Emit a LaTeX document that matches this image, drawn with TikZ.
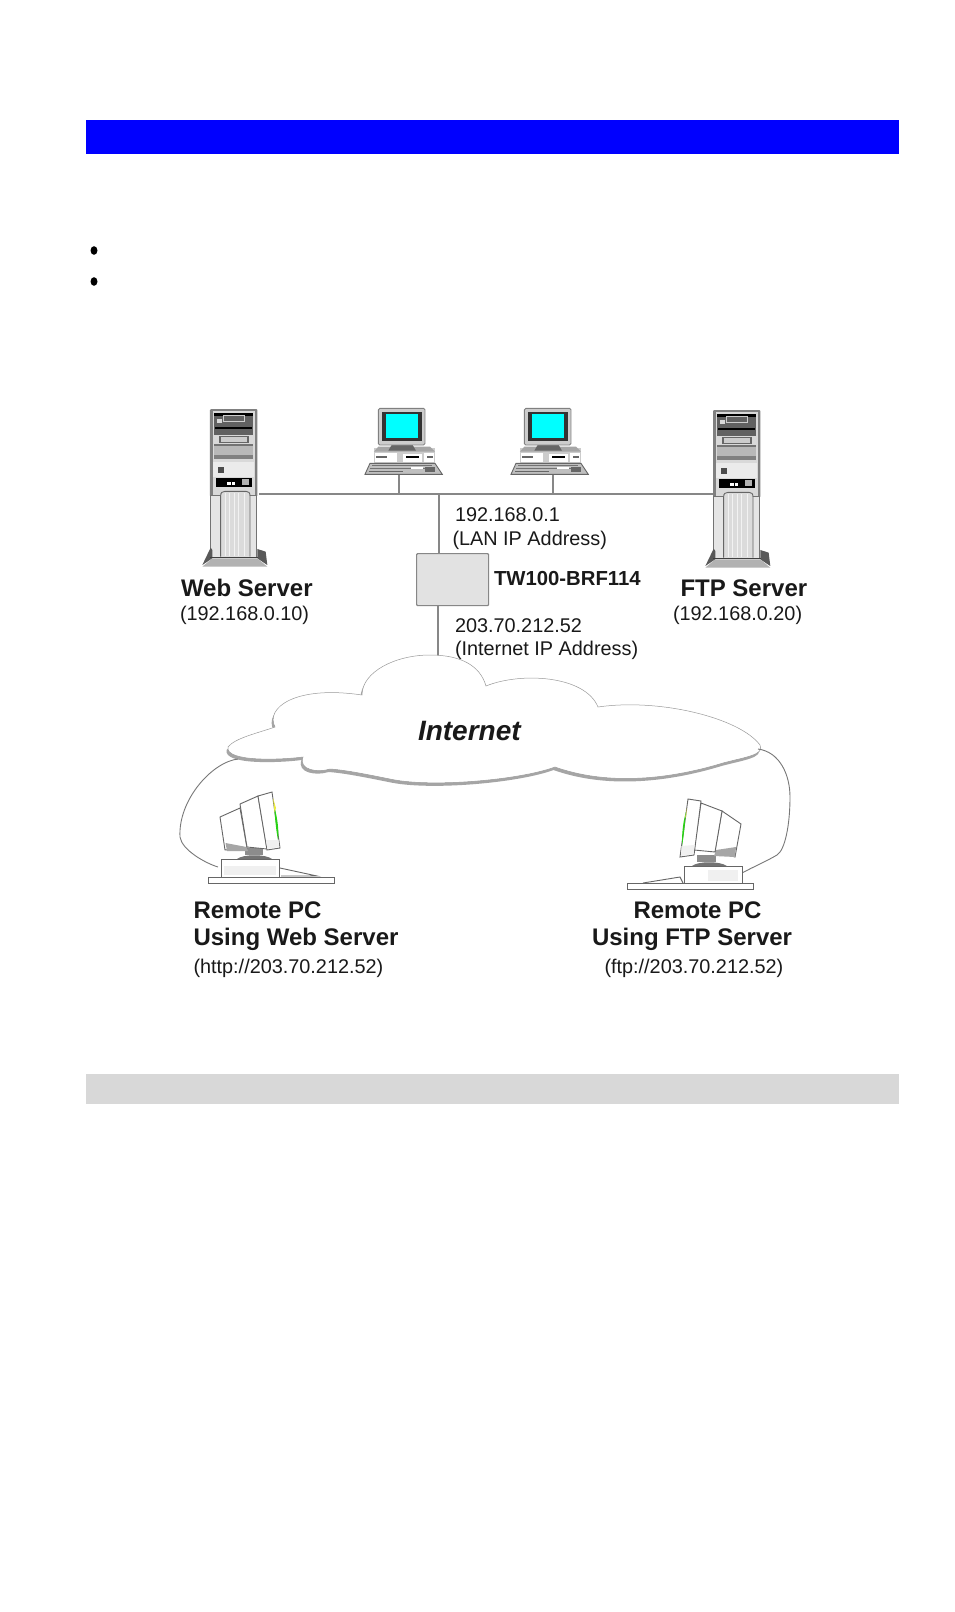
\documentclass[tikz,border=0pt]{standalone}
\usepackage{fontspec}
\setmainfont{Liberation Sans}
\definecolor{cabletone}{RGB}{120,120,120}
\definecolor{wireline}{RGB}{135,135,135}
\definecolor{cloudshade}{RGB}{165,165,165}
\definecolor{panelgrey}{RGB}{216,216,216}
\definecolor{routerfill}{RGB}{226,226,226}
\definecolor{titleblue}{RGB}{0,0,255}
\definecolor{screencyan}{RGB}{0,255,255}
\definecolor{tubegreen}{RGB}{40,210,20}
\definecolor{tubeyellow}{RGB}{235,235,60}
\tikzset{
  x=1pt,y=-1pt,
  lbl/.style={anchor=base west,inner sep=0pt,outer sep=0pt,text=black!90},
  regtext/.style={lbl,font=\fontsize{19.85}{20}\selectfont},
  boldtext/.style={lbl,font=\bfseries\fontsize{24}{24}\selectfont},
  wire/.style={draw=wireline,line width=1.2pt},
  cable/.style={draw=cabletone,line width=0.9pt},
  mon/.style={draw=black!60,line width=0.9pt,fill=white},
}
% server tower, in 3x zoom units around its own origin
\newcommand{\towerunit}{%
  \fill[black!50,rounded corners=1pt] (120,87) rectangle (262,350);
  \fill[black!15] (128,93) rectangle (254,350);
  \fill[black!62] (133,100) rectangle (248,165);
  \fill[black] (133,100) rectangle (248,107);
  \fill[black] (135,140) rectangle (246,148);
  \draw[black!20,line width=0.6pt] (160,107) rectangle (222,125);
  \fill[black!15] (140,117) rectangle (156,130);
  \fill[black!60] (148,168) rectangle (236,190);
  \fill[black!20] (153,172) rectangle (230,186);
  \fill[black!55] (133,192) rectangle (248,197);
  \fill[black!28] (133,197) rectangle (248,225);
  \fill[black!50] (133,225) rectangle (248,238);
  \fill[black!8] (130,245) rectangle (252,292);
  \fill[black!70] (145,260) rectangle (163,278);
  \fill[black] (138,293) rectangle (246,322);
  \fill[white] (172,305) rectangle (182,314);
  \fill[white] (186,305) rectangle (196,314);
  \fill[black!30] (215,297) rectangle (238,315);
  \fill[black!10,draw=black!55,line width=0.8pt] (122,345) rectangle (260,532);
  \draw[black!60,line width=0.9pt,fill=black!14] (152,530) -- (152,348) .. controls (152,338) and (156,334) .. (165,334) -- (228,334) .. controls (236,334) and (240,338) .. (240,348) -- (240,530);
  \foreach \q in {165,178,192,206,222} \draw[black!5,line width=0.7pt] (\q,340) -- (\q,528);
  \fill[black!65] (122,503) -- (97,555) -- (127,535) -- (127,510) -- cycle;
  \fill[black!65] (262,507) -- (287,515) -- (292,555) -- (262,535) -- cycle;
  \fill[black!30] (97,560) -- (127,535) -- (262,535) -- (292,560) -- cycle;
  \draw[black!75,line width=0.9pt] (120,532) -- (264,532);
}
% desktop PC, in 3x zoom units
\newcommand{\deskunit}{%
  \fill[black!20] (612,205) rectangle (795,250);
  \fill[black!35] (625,200) -- (612,215) -- (795,215) -- (780,200) -- cycle;
  \fill[white] (614,218) rectangle (680,246);
  \fill[white] (700,222) rectangle (755,246);
  \fill[white] (762,218) rectangle (793,246);
  \fill[black!60] (618,227) rectangle (650,233);
  \fill[black] (708,227) rectangle (748,235);
  \fill[black!60] (772,229) rectangle (790,233);
  \fill[black!60] (665,195) -- (728,195) -- (738,212) -- (655,212) -- cycle;
  \fill[black!20,draw=black!50,line width=0.9pt,rounded corners=1.5pt] (625,85) rectangle (765,195);
  \fill[black!80] (637,97) rectangle (755,182);
  \fill[screencyan] (648,103) rectangle (743,175);
  \fill[black!25,draw=black!60,line width=0.9pt] (600,250) -- (585,283) -- (817,283) -- (795,250) -- cycle;
  \fill[black!55] (605,254) rectangle (785,258);
  \fill[black!55] (600,264) rectangle (790,268);
  \fill[white] (722,262) rectangle (758,268);
  \fill[black!60] (598,272) rectangle (700,276);
  \fill[black!60] (765,262) rectangle (795,275);
}
\begin{document}
\begin{tikzpicture}
\useasboundingbox (0,0) rectangle (954,1612);
\fill[white] (0,0) rectangle (954,1612);

% page bands and bullets
\fill[titleblue] (86,120) rectangle (899,154);
\fill[panelgrey] (86,1074) rectangle (899,1104);
\fill[black] (94,250.5) ellipse (3.5 and 4.3);
\fill[black] (94,281.5) ellipse (3.5 and 4.3);

% named connection points
\node[wire,fill=routerfill,rounded corners=1pt,minimum width=72pt,minimum height=52pt,inner sep=0pt,anchor=north west] (router) at (416,553) {};
\coordinate (webport) at (259,494);
\coordinate (ftpport) at (714,494);
\coordinate (pcAport) at (399,475);
\coordinate (pcBport) at (553,475);
\coordinate (busA) at (399,494);
\coordinate (busB) at (553,494);
\coordinate (busR) at (439,494);
\coordinate (routerN) at (439,553);
\coordinate (routerS) at (438,605);
\coordinate (cloudtop) at (438,660);

\draw[wire] (webport) -- (ftpport);
\draw[wire] (pcAport) -- (busA);
\draw[wire] (pcBport) -- (busB);
\draw[wire] (busR) -- (routerN);
\draw[wire] (routerS) -- (cloudtop);

% servers
\begin{scope}[shift={(170,380)},x=0.3333pt,y=-0.3333pt]\towerunit\end{scope}
\begin{scope}[shift={(673,381)},x=0.3333pt,y=-0.3333pt]\towerunit\end{scope}
% desktops
\begin{scope}[shift={(170,380)},x=0.3333pt,y=-0.3333pt]\deskunit\end{scope}
\begin{scope}[shift={(316,380)},x=0.3333pt,y=-0.3333pt]\deskunit\end{scope}

% cloud
\def\cloudpath{(228,747) .. controls (235,738) and (258,733) .. (275,727)
  .. controls (265,708) and (295,685) .. (362,695)
  .. controls (362,672) and (395,655) .. (430,655) .. controls (460,655) and (480,665) .. (486,686)
  .. controls (520,672) and (585,675) .. (598,707)
  .. controls (660,698) and (740,718) .. (760,745)
  .. controls (765,755) and (745,757) .. (723,763)
  .. controls (690,773) and (620,790) .. (555,767)
  .. controls (520,780) and (430,788) .. (390,779)
  .. controls (365,774) and (345,770) .. (330,769)
  .. controls (318,773) and (298,770) .. (303,757)
  .. controls (280,760) and (225,762) .. (228,747) -- cycle}
\fill[cloudshade,yshift=-3pt,xshift=-1.5pt] \cloudpath;
\fill[white,draw=black!40,line width=0.5pt] \cloudpath;

% remote cables
\coordinate (cloudL) at (238,759);
\coordinate (cloudR) at (758,749);
\coordinate (remoteAport) at (218,867);
\coordinate (remoteBport) at (742,873);
\draw[cable] (cloudL) .. controls (212,762) and (178,800) .. (180,837) .. controls (182,850) and (205,863) .. (remoteAport);
\draw[cable] (cloudR) .. controls (780,752) and (790,775) .. (790,797) .. controls (790,825) and (785,850) .. (777,855) .. controls (765,862) and (755,866) .. (remoteBport);

% remote PC left
\draw[black!60,line width=0.9pt] (208,877) rectangle (334,883);
\draw[black!60,line width=0.9pt,fill=white] (221,859) rectangle (279,877);
\fill[black!6] (224,866) rectangle (276,875);
\draw[black!60,line width=0.9pt] (280,868) -- (317,876) -- (281,876);
\fill[black!45] (245,848) rectangle (263,855);
\fill[black!55] (237,859) .. controls (243,854) and (266,854) .. (272,859) -- cycle;
\draw[mon] (220,817) -- (240,808) -- (247,848) -- (225,850) -- cycle;
\fill[black!35] (225.5,843) -- (246.5,847) -- (248,851) -- (227,851) -- cycle;
\draw[mon] (240,804) -- (258,796) -- (267,849) -- (247,847) -- cycle;
\draw[mon] (258,796) -- (272,792) -- (280,848) -- (267,850) -- cycle;
\fill[black!6] (266,840) -- (278.5,840) -- (279.3,847) -- (267.5,849) -- cycle;
\fill[tubegreen] (274,805) .. controls (278,820) and (279,832) .. (278,840) .. controls (276,830) and (275,818) .. (274,805) -- cycle;
\fill[tubeyellow] (273,798) -- (276,808) -- (274.5,812) -- cycle;

% remote PC right
\draw[black!60,line width=0.9pt] (627,883) rectangle (753,889);
\draw[black!60,line width=0.9pt,fill=white] (684,866) rectangle (742,883);
\fill[black!6] (708,870) rectangle (738,881);
\draw[black!60,line width=0.9pt] (643,883) -- (680,877) -- (683,883);
\fill[black!45] (697,855) rectangle (716,862);
\fill[black!55] (692,866) .. controls (698,861) and (720,861) .. (727,866) -- cycle;
\draw[mon] (722,811) -- (741,824) -- (735,857) -- (715,851) -- cycle;
\fill[black!35] (716,850) -- (736,847) -- (735,857) -- (714,856) -- cycle;
\draw[mon] (701,803) -- (722,811) -- (715,852) -- (694,850) -- cycle;
\draw[mon] (688,799) -- (701,801) -- (694,855) -- (680,857) -- cycle;
\fill[black!6] (681.5,846) -- (694.5,845) -- (693.5,854) -- (681,856) -- cycle;
\fill[tubegreen] (686,812) .. controls (682,825) and (682,838) .. (682,846) .. controls (684,835) and (685,822) .. (686,812) -- cycle;
\fill[tubeyellow] (687,808) -- (686,816) -- (685,818) -- cycle;

% labels
\node[boldtext] (webname) at (181,596) {Web Server};
\node[regtext] (webip) at (180,620) {(192.168.0.10)};
\node[boldtext] (ftpname) at (680.5,596) {FTP Server};
\node[regtext] (ftpip) at (673,620) {(192.168.0.20)};
\node[regtext] (lanip) at (455,521) {192.168.0.1};
\node[regtext] (lanlabel) at (452.5,545) {(LAN IP Address)};
\node[lbl,font=\bfseries\fontsize{20.3}{21}\selectfont] (model) at (494,585) {TW100-BRF114};
\node[regtext] (wanip) at (455,632) {203.70.212.52};
\node[regtext] (wanlabel) at (455,655) {(Internet IP Address)};
\node[lbl,font=\bfseries\itshape\fontsize{28}{29}\selectfont] (net) at (418,740) {Internet};
\node[boldtext] (remA) at (193.5,918) {Remote PC};
\node[boldtext] (remAb) at (193.5,945) {Using Web Server};
\node[regtext] (remAc) at (193.5,973) {(http://203.70.212.52)};
\node[boldtext] (remB) at (633.5,918) {Remote PC};
\node[boldtext] (remBb) at (592,945) {Using FTP Server};
\node[regtext] (remBc) at (604.5,973) {(ftp://203.70.212.52)};
\end{tikzpicture}
\end{document}
